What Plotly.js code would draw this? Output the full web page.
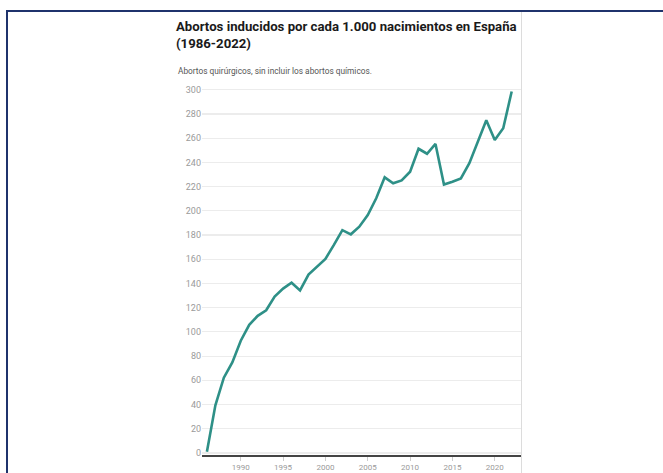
<!DOCTYPE html>
<html>
<head>
<meta charset="utf-8">
<script src="https://cdn.plot.ly/plotly-3.0.1.min.js"></script>
<style>
  html, body { margin: 0; padding: 0; background: #fff; }
  #wrap { position: relative; width: 663px; height: 473px; overflow: hidden; }
  #chart { position: absolute; left: 0; top: 0; width: 663px; height: 473px; }
  #frame { position: absolute; left: 6px; top: 10px; width: 660px; height: 470px;
           border-top: 2px solid #1f336c; border-left: 2px solid #1f336c; pointer-events: none; }
  #card { position: absolute; left: 521px; top: 12px; width: 0; height: 461px;
          border-left: 1px solid #dcdcdc; pointer-events: none; }
</style>
</head>
<body>
<div id="wrap">
  <div id="chart"></div>
  <div id="card"></div>
  <div id="frame"></div>
</div>
<script>
const years = [1986,1987,1988,1989,1990,1991,1992,1993,1994,1995,1996,1997,1998,1999,2000,
  2001,2002,2003,2004,2005,2006,2007,2008,2009,2010,2011,2012,2013,2014,2015,2016,2017,2018,
  2019,2020,2021,2022];
const abortsPer1000 = [1,39.3,62.2,74.8,92.7,105.8,113.3,117.9,129.2,135.8,140.6,134.3,147.4,153.6,160.3,
  171.9,184.1,180.6,186.9,196.5,210.4,227.7,222.8,225.2,232.3,251.3,247.2,255.3,221.7,224.1,226.8,239.4,257.3,
  274.9,258.6,268.2,298.6];
const yTicks = [0,20,40,60,80,100,120,140,160,180,200,220,240,260,280,300];
const xTicks = [1990,1995,2000,2005,2010,2015,2020];

const titleText = "Abortos inducidos por cada 1.000 nacimientos en España<br>(1986-2022)";
const subtitleText = "Abortos quirúrgicos, sin incluir los abortos químicos.";

const W = 663, H = 473;
const trace = {
  x: years, y: abortsPer1000, type: 'scatter', mode: 'lines',
  line: {color: '#2e9087', width: 2.6},
  hoverinfo: 'x+y'
};
const layout = {
  width: W, height: H,
  paper_bgcolor: '#ffffff', plot_bgcolor: '#ffffff',
  margin: {l: 202, r: 142, t: 88, b: 18},
  showlegend: false,
  font: {family: 'Roboto, "Liberation Sans", sans-serif', color: '#9a9a9a'},
  title: {
    text: titleText,
    font: {family: 'Roboto, sans-serif', size: 13.2, color: '#1a1a1a', weight: 700},
    xref: 'container', yref: 'container', x: 176 / W, xanchor: 'left',
    y: 1 - 31 / H, yanchor: 'top'
  },
  annotations: [{
    text: subtitleText, showarrow: false,
    xref: 'paper', yref: 'paper',
    x: (176 - 202) / (W - 202 - 142), xanchor: 'left',
    y: 1 + (88 - 71) / (H - 88 - 18), yanchor: 'middle',
    font: {family: 'Roboto, sans-serif', size: 8.3, color: '#555555'}
  }],
  xaxis: {
    range: [1985.42, 2023.1],
    tickmode: 'array', tickvals: xTicks, ticktext: xTicks.map(String),
    showgrid: false, zeroline: false,
    showline: true, linecolor: '#444444', linewidth: 1.5,
    ticks: 'outside', ticklen: 4, tickcolor: '#cccccc',
    tickfont: {size: 8, color: '#9a9a9a'}
  },
  yaxis: {
    range: [-1.7, 301.5],
    tickmode: 'array', tickvals: yTicks, ticktext: yTicks.map(String),
    showgrid: true, gridcolor: '#ececec', gridwidth: 1.2,
    zeroline: false, showline: false, ticks: '',
    tickfont: {size: 9, color: '#9a9a9a'}
  }
};
Plotly.newPlot('chart', [trace], layout, {displayModeBar: false, staticPlot: true});
</script>
</body>
</html>
